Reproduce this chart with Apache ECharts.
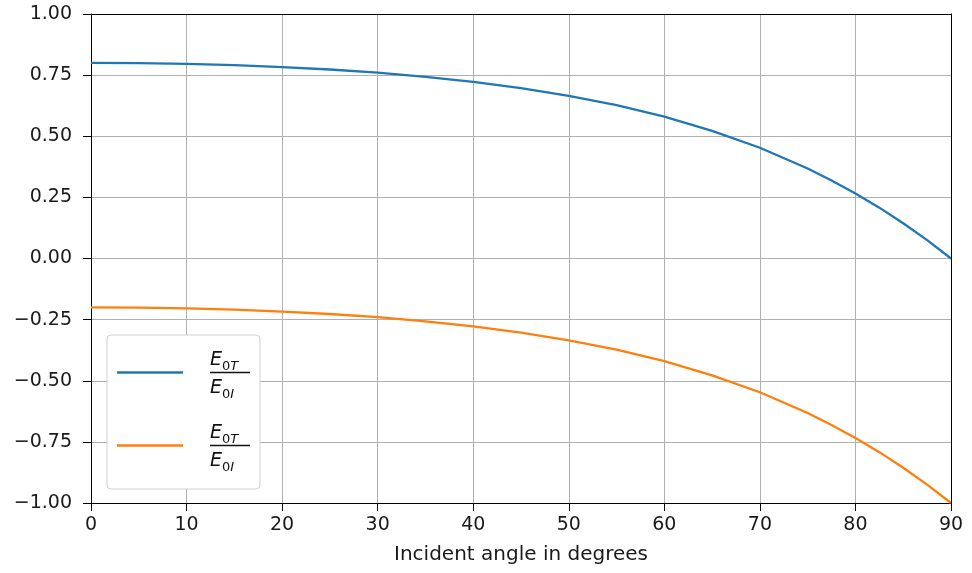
<!DOCTYPE html>
<html><head><meta charset="utf-8">
<script src="https://cdn.jsdelivr.net/npm/echarts@6/dist/echarts.min.js"></script>
<style>html,body{margin:0;padding:0;background:#fff;}#c{width:972px;height:573px;}</style>
</head><body><div id="c"></div>
<script>
const angles = [0, 5, 10, 15, 20, 25, 30, 35, 40, 45, 50, 55, 60, 65, 70, 75, 77.5, 80, 82.5, 85, 87.5, 90];
const transmitted = [0.800, 0.799, 0.796, 0.791, 0.783, 0.773, 0.760, 0.743, 0.722, 0.697, 0.665, 0.627, 0.580, 0.522, 0.453, 0.368, 0.319, 0.266, 0.208, 0.144, 0.075, 0.000];
const reflected = [-0.200, -0.201, -0.204, -0.209, -0.217, -0.227, -0.240, -0.257, -0.278, -0.303, -0.335, -0.373, -0.420, -0.478, -0.547, -0.632, -0.681, -0.734, -0.792, -0.856, -0.925, -1.000];
const xTicks = [0, 10, 20, 30, 40, 50, 60, 70, 80, 90];
const yTicks = [-1.00, -0.75, -0.50, -0.25, 0.00, 0.25, 0.50, 0.75, 1.00];
const seriesNames = ['transmitted', 'reflected'];

const chart = echarts.init(document.getElementById('c'));
const fracRich = {
  e: {fontFamily: 'DejaVu Sans', fontStyle: 'italic', fontSize: 19, color: '#111', lineHeight: 23, verticalAlign: 'bottom'},
  s: {fontFamily: 'DejaVu Sans', fontStyle: 'italic', fontSize: 13, color: '#111', lineHeight: 16, verticalAlign: 'bottom', padding: [0, 0, -3, 0]},
  z: {fontFamily: 'DejaVu Sans', fontSize: 13, color: '#111', lineHeight: 16, verticalAlign: 'bottom', padding: [0, 0, -3, 0]},
  bar: {width: 40, height: 1.3, backgroundColor: '#111', lineHeight: 5}
};
const fmtY = v => { const t = yTicks.find(y => Math.abs(y - v) < 1e-9); return t === undefined ? '' : t.toFixed(2).replace('-', '\u2212'); };
const labelFont = {fontFamily: 'DejaVu Sans', fontSize: 19, color: '#1a1a1a'};
const gridLine = {show: true, lineStyle: {color: '#b0b0b0', width: 1}};
chart.setOption({
  animation: false,
  grid: {left: 91, right: 21, top: 14, bottom: 70, containLabel: false},
  xAxis: [{
    type: 'value', min: 0, max: 90, interval: 10,
    name: 'Incident angle in degrees', nameLocation: 'middle', nameGap: 42,
    nameTextStyle: {fontFamily: 'DejaVu Sans', fontSize: 20, color: '#1a1a1a'},
    axisLine: {show: true, onZero: false, lineStyle: {color: '#000', width: 1}},
    axisTick: {show: true, length: 8, lineStyle: {color: '#000'}},
    axisLabel: Object.assign({margin: 13, formatter: v => xTicks.includes(v) ? String(v) : ''}, labelFont),
    splitLine: gridLine, z: 3
  }, {
    type: 'value', min: 0, max: 90, position: 'top',
    axisLine: {show: true, onZero: false, lineStyle: {color: '#000', width: 1}},
    axisTick: {show: false}, axisLabel: {show: false}, splitLine: {show: false}, z: 4
  }],
  yAxis: [{
    type: 'value', min: -1, max: 1, interval: 0.25,
    axisLine: {show: true, onZero: false, lineStyle: {color: '#000', width: 1}},
    axisTick: {show: true, length: 8, lineStyle: {color: '#000'}},
    axisLabel: Object.assign({margin: 19, formatter: fmtY}, labelFont),
    splitLine: gridLine, z: 3
  }, {
    type: 'value', min: -1, max: 1, position: 'right',
    axisLine: {show: true, onZero: false, lineStyle: {color: '#000', width: 1}},
    axisTick: {show: false}, axisLabel: {show: false}, splitLine: {show: false}, z: 4
  }],
  legend: {
    orient: 'vertical', left: 107, top: 335,
    backgroundColor: '#fff', borderColor: '#d0d0d0', borderWidth: 1, borderRadius: 4,
    padding: [16, 10, 15, 10], itemGap: 23, itemWidth: 66, itemHeight: 2.5,
    icon: 'rect',
    data: seriesNames,
    formatter: () => '{e|E}{z|0}{s|T}\n{bar|}\n{e|E}{z|0}{s|I}',
    textStyle: {padding: [0, 0, 0, 22], align: 'center', rich: fracRich}
  },
  series: [
    {name: seriesNames[0], type: 'line', showSymbol: false, smooth: false,
     lineStyle: {color: '#1f77b4', width: 2.3}, itemStyle: {color: '#1f77b4'},
     data: angles.map((a, i) => [a, transmitted[i]])},
    {name: seriesNames[1], type: 'line', showSymbol: false, smooth: false,
     lineStyle: {color: '#ff7f0e', width: 2.3}, itemStyle: {color: '#ff7f0e'},
     data: angles.map((a, i) => [a, reflected[i]])}
  ]
});
</script></body></html>
